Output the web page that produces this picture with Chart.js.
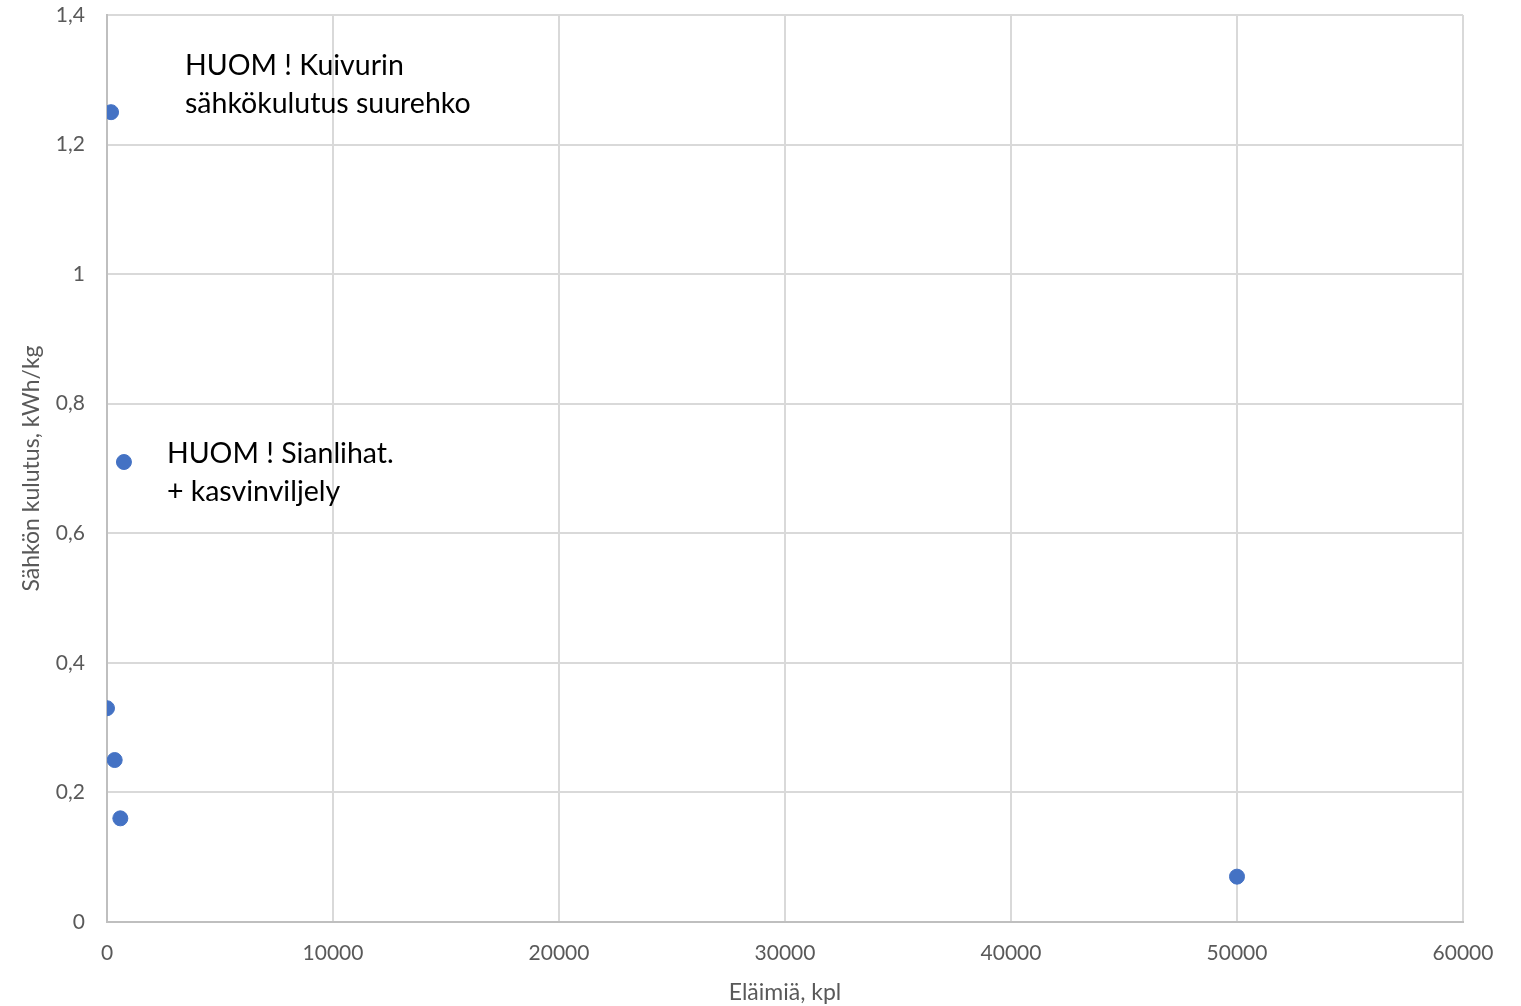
<!DOCTYPE html>
<html>
<head>
<meta charset="utf-8">
<script src="https://cdn.jsdelivr.net/npm/chart.js@4"></script>
<style>
html,body{margin:0;padding:0;background:#fff;}
#wrap{width:1521px;height:1006px;}
</style>
</head>
<body>
<div id="wrap"><canvas id="c" width="1521" height="1006"></canvas></div>
<script>
const animalsCount = [180, 750, 0, 340, 590, 50000];
const kwhPerKg = [1.25, 0.71, 0.33, 0.25, 0.16, 0.07];
const xTitle = 'Eläimiä, kpl';
const yTitle = 'Sähkön kulutus, kWh/kg';
const noteLines1 = ['HUOM ! Kuivurin', 'sähkökulutus suurehko'];
const noteLines2 = ['HUOM ! Sianlihat.', '+ kasvinviljely'];
const noteAnchors = [
  {x: 3450, y: 1.321, lines: noteLines1},
  {x: 2650, y: 0.722, lines: noteLines2}
];

const FONT = 'Lato, "Open Sans", sans-serif';

const notesPlugin = {
  id: 'notes',
  afterDatasetsDraw(chart) {
    const {ctx, scales} = chart;
    ctx.save();
    ctx.font = '28.5px ' + FONT;
    ctx.fillStyle = '#000';
    ctx.textAlign = 'left';
    ctx.textBaseline = 'middle';
    noteAnchors.forEach(a => {
      const px = scales.x.getPixelForValue(a.x);
      const py = scales.y.getPixelForValue(a.y);
      a.lines.forEach((t, i) => ctx.fillText(t, px, py + i * 38));
    });
    ctx.restore();
  }
};

new Chart(document.getElementById('c'), {
  type: 'scatter',
  data: {
    datasets: [{
      data: animalsCount.map((v, i) => ({x: v, y: kwhPerKg[i]})),
      backgroundColor: '#4472C4',
      borderColor: '#4472C4',
      pointRadius: 7.5,
      pointHoverRadius: 7.5
    }]
  },
  options: {
    responsive: false,
    animation: false,
    layout: {padding: {top: 15, right: 58, left: 0, bottom: 0}},
    plugins: {legend: {display: false}, tooltip: {enabled: false}},
    scales: {
      x: {
        type: 'linear',
        min: 0, max: 60000,
        ticks: {stepSize: 10000, padding: 19, color: '#595959', font: {size: 21, family: FONT}, maxRotation: 0,
          callback: v => String(v)},
        grid: {color: '#d9d9d9', lineWidth: 2, drawTicks: false},
        border: {color: '#bfbfbf', width: 2},
        title: {display: true, text: xTitle, color: '#595959', font: {size: 23, family: FONT}, padding: {top: 14, bottom: 0}},
        afterFit(s) { s.height = 84; s.paddingLeft = 0; s.paddingRight = 0; }
      },
      y: {
        min: 0, max: 1.4,
        ticks: {stepSize: 0.2, padding: 22, color: '#595959', font: {size: 21, family: FONT},
          callback: v => String(Math.round(v * 10) / 10).replace('.', ',')},
        grid: {color: '#d9d9d9', lineWidth: 2, drawTicks: false},
        border: {color: '#bfbfbf', width: 2},
        title: {display: true, text: yTitle, color: '#595959', font: {size: 23, family: FONT}, padding: {top: 18, bottom: 0}},
        afterFit(s) { s.width = 107; s.paddingTop = 0; s.paddingBottom = 0; }
      }
    }
  },
  plugins: [notesPlugin]
});
</script>
</body>
</html>
